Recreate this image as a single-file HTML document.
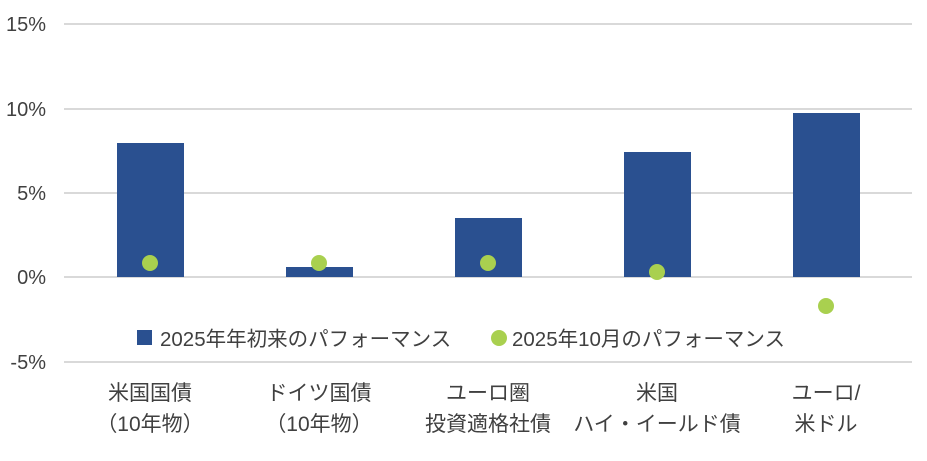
<!DOCTYPE html>
<html><head><meta charset="utf-8"><style>
html,body{margin:0;padding:0;background:#fff;}
body{width:927px;height:456px;overflow:hidden;}
svg text{font-family:"Liberation Sans","Noto Sans CJK JP",sans-serif;fill:#404040;}
</style></head><body>
<svg width="927" height="456" viewBox="0 0 927 456" xmlns="http://www.w3.org/2000/svg">
<g stroke="#d9d9d9" stroke-width="2">
<line x1="64" y1="24" x2="912" y2="24"/>
<line x1="64" y1="109" x2="912" y2="109"/>
<line x1="64" y1="193" x2="912" y2="193"/>
<line x1="64" y1="277" x2="912" y2="277"/>
<line x1="64" y1="362" x2="912" y2="362"/>
</g>
<g font-size="20" text-anchor="end">
<text x="46" y="31">15%</text>
<text x="46" y="116">10%</text>
<text x="46" y="200">5%</text>
<text x="46" y="284">0%</text>
<text x="46" y="369">-5%</text>
</g>
<g fill="#2a5090">
<rect x="117" y="143" width="67" height="134"/>
<rect x="286" y="267" width="67" height="10"/>
<rect x="455" y="218" width="67" height="59"/>
<rect x="624" y="152" width="67" height="125"/>
<rect x="793" y="113" width="67" height="164"/>
</g>
<g fill="#a9d04f">
<circle cx="150" cy="263" r="8"/>
<circle cx="319" cy="263" r="8"/>
<circle cx="488" cy="263" r="8"/>
<circle cx="657" cy="272" r="8"/>
<circle cx="826" cy="306" r="8"/>
</g>
<rect x="137" y="330" width="15" height="15" fill="#2a5090"/>
<text x="160" y="346" font-size="20.5">2025年年初来のパフォーマンス</text>
<circle cx="499" cy="338" r="8" fill="#a9d04f"/>
<text x="512" y="346" font-size="20.5">2025年10月のパフォーマンス</text>
<g font-size="21" text-anchor="middle">
<text x="150" y="400">米国国債</text>
<text x="150" y="431">（10年物）</text>
<text x="319" y="400">ドイツ国債</text>
<text x="319" y="431">（10年物）</text>
<text x="488" y="400">ユーロ圏</text>
<text x="488" y="431">投資適格社債</text>
<text x="657" y="400">米国</text>
<text x="657" y="431">ハイ・イールド債</text>
<text x="826" y="400">ユーロ/</text>
<text x="826" y="431">米ドル</text>
</g>
</svg>
</body></html>
